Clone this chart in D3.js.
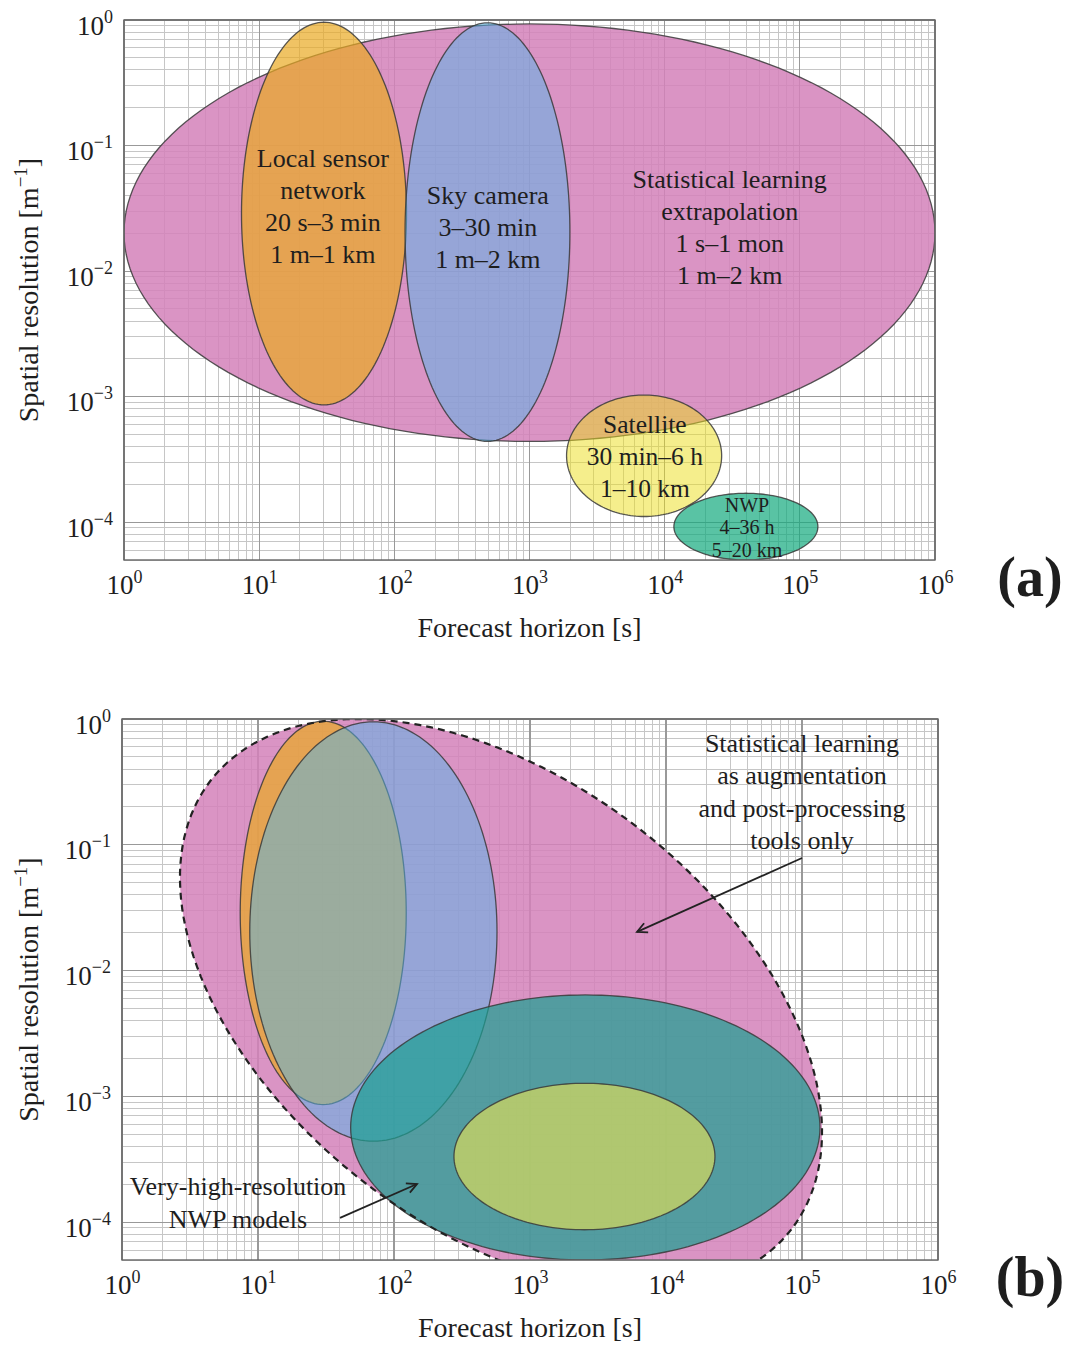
<!DOCTYPE html>
<html><head><meta charset="utf-8">
<script src="https://cdn.jsdelivr.net/npm/d3@7"></script>
<style>
body{margin:0;background:#fff}
text{font-family:"Liberation Serif","Times New Roman",serif;fill:#1e1e1e}
</style>
</head><body>
<svg id="c" width="1072" height="1346"></svg>
<script>
// ---------------- DATA ----------------
const xDomain = [1, 1e6];            // forecast horizon [s]
const yDomain = [5e-5, 1];           // spatial resolution [1/m]
const xMajorExp = [0, 1, 2, 3, 4, 5, 6];
const yMajorExp = [0, -1, -2, -3, -4];

// Panel (a): axis-aligned regions, extents in data units
const aNames = ["Statistical learning", "Local sensor network", "Sky camera", "Satellite", "NWP"];
const aXmin = [1, 7.4, 120, 1880, 11700];
const aXmax = [1e6, 123, 1990, 26400, 136000];
const aYmin = [4.4e-4, 8.6e-4, 4.4e-4, 1.11e-4, 5.0e-5];
const aYmax = [0.93, 0.96, 0.95, 1.03e-3, 1.7e-4];
const aLabelLines = [
  ["Statistical learning", "extrapolation", "1 s\u20131 mon", "1 m\u20132 km"],
  ["Local sensor", "network", "20 s\u20133 min", "1 m\u20131 km"],
  ["Sky camera", "3\u201330 min", "1 m\u20132 km"],
  ["Satellite", "30 min\u20136 h", "1\u201310 km"],
  ["NWP", "4\u201336 h", "5\u201320 km"]
];
const aLabelX = [30300, 29.6, 492, 7140, 40600];
const aLabelY = [0.0459, 0.0676, 0.0343, 5.15e-4, 1.21e-4];

// Panel (b): axis-aligned regions
const bNames = ["Local sensor network", "Sky camera", "Very-high-resolution NWP", "Satellite"];
const bXmin = [7.4, 8.7, 48, 276];
const bXmax = [123, 572, 135600, 22900];
const bYmin = [8.6e-4, 4.4e-4, 5.0e-5, 8.7e-5];
const bYmax = [0.96, 0.95, 6.4e-3, 1.27e-3];
// Panel (b): tilted statistical-learning region: centre and conjugate semi-axes (decades)
const bStatCenter = [612, 5.33e-3];
const bStatAxisU = [2.135, -1.784];
const bStatAxisV = [-1.007, -1.409];
const bTextLines = [
  ["Statistical learning", "as augmentation", "and post-processing", "tools only"],
  ["Very-high-resolution", "NWP models"]
];
const bTextX = [1e5, 7.13];
const bTextY = [0.547, 1.64e-4];
const bArrowFrom = [[1e5, 0.0785], [40.1, 1.08e-4]];
const bArrowTo = [[6120, 0.0203], [147.6, 2.01e-4]];

// ---------------- STYLE / LAYOUT ----------------
const fillsA = {
  "Statistical learning": ["rgb(211,129,186)", 0.85],
  "Local sensor network": ["rgb(234,169,34)", 0.7],
  "Sky camera": ["rgb(82,182,234)", 0.5],
  "Satellite": ["rgb(235,221,25)", 0.5],
  "NWP": ["rgb(19,169,126)", 0.7]
};
const fillsB = {
  "Statistical learning": ["rgb(211,129,186)", 0.85],
  "Local sensor network": ["rgb(234,169,34)", 0.7],
  "Sky camera": ["rgb(82,182,234)", 0.5],
  "Satellite": ["rgb(238,228,80)", 0.6],
  "Very-high-resolution NWP": ["rgb(25,160,145)", 0.7]
};
const boxA = {left:124, right:935, top:20, bottom:560};
const boxB = {left:122, right:938, top:719, bottom:1260};

const svg = d3.select("#c");
const defs = svg.append("defs");
defs.append("marker").attr("id","arr").attr("viewBox","-12 -7 14 14")
  .attr("refX",0).attr("refY",0).attr("markerWidth",14).attr("markerHeight",14)
  .attr("markerUnits","userSpaceOnUse").attr("orient","auto")
  .append("path").attr("d","M-10,-5 L0,0 L-10,5").attr("fill","none")
  .attr("stroke","#222").attr("stroke-width",1.8);

const lg = Math.log10;
const supTxt = d => String(Math.round(lg(d))).replace("-","\u2212");

function makePanel(box, id, tag) {
  const x = d3.scaleLog().domain(xDomain).range([box.left, box.right]);
  const y = d3.scaleLog().domain(yDomain).range([box.bottom, box.top]);
  const g = svg.append("g");
  defs.append("clipPath").attr("id","clip"+id).append("rect")
    .attr("x",box.left).attr("y",box.top)
    .attr("width",box.right-box.left).attr("height",box.bottom-box.top);

  // grid
  const xMinor = [], yMinor = [];
  for (let e = 0; e < 6; e++) for (let k = 2; k <= 9; k++) xMinor.push(k * Math.pow(10, e));
  for (let e = -5; e < 0; e++) for (let k = 2; k <= 9; k++) {
    const v = k * Math.pow(10, e);
    if (v >= yDomain[0] && v <= 1) yMinor.push(v);
  }
  const grid = g.append("g").attr("shape-rendering","crispEdges");
  grid.selectAll(".xm").data(xMinor).join("line")
    .attr("x1",d=>x(d)).attr("x2",d=>x(d)).attr("y1",box.top).attr("y2",box.bottom)
    .attr("stroke","#c6c6c6").attr("stroke-width",1);
  grid.selectAll(".ym").data(yMinor).join("line")
    .attr("y1",d=>y(d)).attr("y2",d=>y(d)).attr("x1",box.left).attr("x2",box.right)
    .attr("stroke","#c6c6c6").attr("stroke-width",1);
  grid.selectAll(".xM").data(xMajorExp.map(e=>Math.pow(10,e))).join("line")
    .attr("x1",d=>x(d)).attr("x2",d=>x(d)).attr("y1",box.top).attr("y2",box.bottom)
    .attr("stroke","#999").attr("stroke-width",1.2);
  grid.selectAll(".yM").data(yMajorExp.map(e=>Math.pow(10,e))).join("line")
    .attr("y1",d=>y(d)).attr("y2",d=>y(d)).attr("x1",box.left).attr("x2",box.right)
    .attr("stroke","#999").attr("stroke-width",1.2);

  const plot = g.append("g").attr("clip-path","url(#clip"+id+")");

  // axes
  const xAxis = g.append("g").attr("transform",`translate(0,${box.bottom})`)
    .call(d3.axisBottom(x).tickValues(xMajorExp.map(e=>Math.pow(10,e))).tickSize(0).tickFormat(""));
  xAxis.select(".domain").remove();
  xAxis.selectAll(".tick text").attr("y",34).attr("dy",null)
    .style("font-size","27px").style("font-family","Liberation Serif").attr("fill","#1e1e1e")
    .each(function(d){
      const t = d3.select(this); t.text(null);
      t.append("tspan").text("10");
      t.append("tspan").attr("dy",-11).style("font-size","18px").text(supTxt(d));
    });
  const yAxis = g.append("g").attr("transform",`translate(${box.left},0)`)
    .call(d3.axisLeft(y).tickValues(yMajorExp.map(e=>Math.pow(10,e))).tickSize(0).tickFormat(""));
  yAxis.select(".domain").remove();
  yAxis.selectAll(".tick text").attr("x",-11).attr("y",14).attr("dy",null)
    .style("font-size","27px").style("font-family","Liberation Serif").attr("fill","#1e1e1e")
    .each(function(d){
      const t = d3.select(this); t.text(null);
      t.append("tspan").text("10");
      t.append("tspan").attr("dy",-12).style("font-size","18px").text(supTxt(d));
    });

  // titles
  g.append("text").attr("x",(box.left+box.right)/2).attr("y",box.bottom+77)
    .attr("text-anchor","middle").style("font-size","28px").text("Forecast horizon [s]");
  const yt = g.append("text").attr("transform",`translate(38,${(box.top+box.bottom)/2}) rotate(-90)`)
    .attr("text-anchor","middle").style("font-size","28px");
  yt.append("tspan").text("Spatial resolution [m");
  yt.append("tspan").attr("dy",-11).style("font-size","19px").text("\u22121");
  yt.append("tspan").attr("dy",11).text("]");

  g.append("text").attr("x",1030).attr("y",box.bottom+36).attr("text-anchor","middle")
    .style("font-size","56px").style("font-weight","bold").text(tag);

  return {x, y, g, plot};
}

const line = d3.line();
function ellipsePts(x, y, xmin, xmax, ymin, ymax) {
  const cx = (lg(xmin)+lg(xmax))/2, rx = (lg(xmax)-lg(xmin))/2;
  const cy = (lg(ymin)+lg(ymax))/2, ry = (lg(ymax)-lg(ymin))/2;
  return d3.range(0, 361, 2).map(a => {
    const t = a*Math.PI/180;
    return [x(Math.pow(10, cx + rx*Math.cos(t))), y(Math.pow(10, cy + ry*Math.sin(t)))];
  });
}
function tiltedPts(x, y, c, u, v) {
  const cx = lg(c[0]), cy = lg(c[1]);
  return d3.range(0, 361, 2).map(a => {
    const t = a*Math.PI/180;
    return [x(Math.pow(10, cx + u[0]*Math.cos(t) + v[0]*Math.sin(t))),
            y(Math.pow(10, cy + u[1]*Math.cos(t) + v[1]*Math.sin(t)))];
  });
}
function drawLabel(parent, x, y, lines, vx, vy, size, gap) {
  lines.forEach((s,i)=>{
    parent.append("text").attr("x",x(vx)).attr("y",y(vy)+i*gap)
      .attr("text-anchor","middle").style("font-size",size+"px").text(s);
  });
}

// ---------- Panel (a) ----------
const A = makePanel(boxA, "A", "(a)");
aNames.forEach((n,i)=>{
  A.plot.append("path").attr("d", line(ellipsePts(A.x, A.y, aXmin[i], aXmax[i], aYmin[i], aYmax[i])) + "Z")
    .attr("fill", fillsA[n][0]).attr("fill-opacity", fillsA[n][1])
    .attr("stroke","#3a3a3a").attr("stroke-opacity",0.85).attr("stroke-width",1.3);
});
const aSizes = [26, 26, 26, 25.5, 20];
const aGaps = [32, 32, 32, 32, 22.5];
aNames.forEach((n,i)=> drawLabel(A.g, A.x, A.y, aLabelLines[i], aLabelX[i], aLabelY[i], aSizes[i], aGaps[i]));
A.g.append("rect").attr("x",boxA.left).attr("y",boxA.top).attr("width",boxA.right-boxA.left)
  .attr("height",boxA.bottom-boxA.top).attr("fill","none").attr("stroke","#666").attr("stroke-width",1.4);

// ---------- Panel (b) ----------
const B = makePanel(boxB, "B", "(b)");
const statPts = tiltedPts(B.x, B.y, bStatCenter, bStatAxisU, bStatAxisV);
B.plot.append("path").attr("d", line(statPts)+"Z")
  .attr("fill", fillsB["Statistical learning"][0]).attr("fill-opacity", fillsB["Statistical learning"][1]);
bNames.forEach((n,i)=>{
  B.plot.append("path").attr("d", line(ellipsePts(B.x, B.y, bXmin[i], bXmax[i], bYmin[i], bYmax[i])) + "Z")
    .attr("fill", fillsB[n][0]).attr("fill-opacity", fillsB[n][1])
    .attr("stroke","#3a3a3a").attr("stroke-opacity",0.85).attr("stroke-width",1.3);
});
B.plot.append("path").attr("d", line(statPts)+"Z").attr("fill","none")
  .attr("stroke","#222").attr("stroke-width",2.2).attr("stroke-dasharray","7,5");
drawLabel(B.g, B.x, B.y, bTextLines[0], bTextX[0], bTextY[0], 26, 32.5);
drawLabel(B.g, B.x, B.y, bTextLines[1], bTextX[1], bTextY[1], 26, 33);
bArrowFrom.forEach((f,i)=>{
  B.g.append("line").attr("x1",B.x(f[0])).attr("y1",B.y(f[1]))
    .attr("x2",B.x(bArrowTo[i][0])).attr("y2",B.y(bArrowTo[i][1]))
    .attr("stroke","#222").attr("stroke-width",1.8).attr("marker-end","url(#arr)");
});
B.g.append("rect").attr("x",boxB.left).attr("y",boxB.top).attr("width",boxB.right-boxB.left)
  .attr("height",boxB.bottom-boxB.top).attr("fill","none").attr("stroke","#666").attr("stroke-width",1.4);
</script>
</body></html>
